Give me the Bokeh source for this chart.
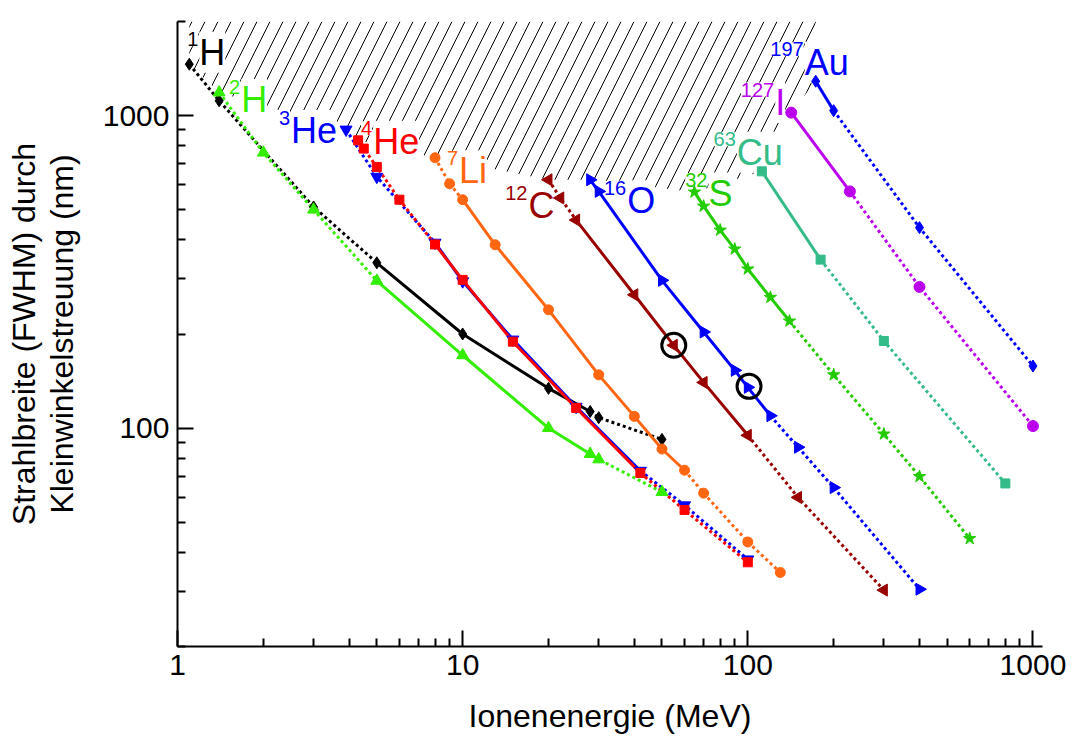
import math
from bokeh.plotting import figure
from bokeh.models import FixedTicker, BasicTickFormatter, Label, Range1d
from bokeh.embed import file_html
from bokeh.resources import INLINE

# ---------------- data (energy in MeV, beam width in nm) ----------------
h1_E = [1.1, 1.4, 3, 5, 10, 20, 28, 30, 50]
h1_W = [1460, 1115, 510, 338, 200, 134, 113, 108, 92]

h2_E = [1.4, 2, 3, 5, 10, 20, 28, 30, 50]
h2_W = [1185, 761, 500, 296, 171, 100, 82.6, 79.4, 62.4]

he3_E = [3.9, 5, 8, 10, 15, 25, 42, 60, 100]
he3_W = [902, 637, 392, 295, 192, 117, 73, 56.6, 38]

he4_E = [4.3, 4.5, 5, 6, 8, 10, 15, 25, 42, 60, 100]
he4_W = [833, 784, 685, 538, 387, 298, 189, 116, 71.8, 54.7, 37.2]

li7_E = [8, 9, 10, 13, 20, 30, 40, 50, 60, 70, 100, 130]
li7_W = [733, 605, 538, 386, 239, 148, 109, 85.7, 73.3, 61.9, 43.2, 34.5]

c12_E = [20, 22, 25, 40, 55, 70, 100, 150, 300]
c12_W = [623, 545, 463, 267, 184, 140, 94.8, 60, 30.3]

o16_E = [28, 30, 50, 70, 90, 100, 120, 150, 200, 400]
o16_W = [623, 572, 297, 203, 153, 135, 109.5, 86.8, 64.5, 30.5]

s32_E = [65, 70, 80, 90, 100, 120, 140, 200, 300, 400, 600]
s32_W = [569, 513, 430, 374, 323, 262, 220, 148, 95.7, 70, 44.3]

cu63_E = [112, 180, 300, 800]
cu63_W = [663, 346, 190, 66.5]

i127_E = [142, 228, 400, 1000]
i127_W = [1022, 572, 283, 101.5]

au197_E = [173, 200, 400, 1000]
au197_W = [1288, 1037, 438, 158]

# highlighted measurements (open black circles)
mark_E = [55, 101]
mark_W = [184, 136]

# isotope labels
mass_numbers = ["1", "2", "3", "4", "7", "12", "16", "32", "63", "127", "197"]
symbols = ["H", "H", "He", "He", "Li", "C", "O", "S", "Cu", "I", "Au"]

x_ticks = [1, 10, 100, 1000]
x_tick_labels = ["1", "10", "100", "1000"]
y_ticks = [100, 1000]
y_tick_labels = ["100", "1000"]

# ---------------- styles ----------------
series = [
    dict(E=h1_E, W=h1_W, color="#000000", marker="diamond", size=12, angle=0.0, solid=(3, 6), lab=(10, -1)),
    dict(E=h2_E, W=h2_W, color="#33ee00", marker="triangle", size=12, angle=0.0, solid=(3, 6), lab=(22, 18)),
    dict(E=he3_E, W=he3_W, color="#0000ff", marker="inverted_triangle", size=12, angle=0.0, solid=(2, 6), lab=(-55, 12)),
    dict(E=he4_E, W=he4_W, color="#ff0000", marker="square", size=9, angle=0.0, solid=(4, 8), lab=(15, 12)),
    dict(E=li7_E, W=li7_W, color="#ff6611", marker="circle", size=10, angle=0.0, solid=(2, 8), lab=(24, 24)),
    dict(E=c12_E, W=c12_W, color="#990000", marker="triangle", size=12, angle=math.pi / 2, solid=(2, 6), lab=(-20, 37)),
    dict(E=o16_E, W=o16_W, color="#0000ff", marker="triangle", size=12, angle=-math.pi / 2, solid=(0, 6), lab=(37, 32)),
    dict(E=s32_E, W=s32_W, color="#22cc00", marker="star", size=13, angle=0.0, solid=(0, 6), lab=(14, 12)),
    dict(E=cu63_E, W=cu63_W, color="#33bb88", marker="square", size=9, angle=0.0, solid=(0, 1), lab=(-25, -8)),
    dict(E=i127_E, W=i127_W, color="#bb00ee", marker="circle", size=11, angle=0.0, solid=(0, 1), lab=(-16, 1)),
    dict(E=au197_E, W=au197_W, color="#0000ff", marker="diamond", size=12, angle=0.0, solid=(0, 1), lab=(-11, -8)),
]

FONT = "Liberation Sans"
X0, X1 = 1, 1080
Y0, Y1 = 20, 2000

p = figure(x_axis_type="log", y_axis_type="log",
           x_range=Range1d(X0, X1), y_range=Range1d(Y0, Y1),
           frame_width=865, frame_height=625,
           min_border_left=177, min_border_right=32,
           min_border_top=21, min_border_bottom=91,
           output_backend="svg", toolbar_location=None)
p.grid.visible = False
p.outline_line_color = None
p.background_fill_color = "white"
p.border_fill_color = "white"

# hatched inaccessible region above the first point of each ion
hx = [series[0]["E"][0]] + [s["E"][0] for s in series] + [series[-1]["E"][0]]
hy = [Y1] + [s["W"][0] for s in series] + [Y1]
hatch = p.patch(hx, hy, fill_color=None, line_color=None,
                hatch_pattern="/", hatch_color="black", hatch_scale=26, hatch_weight=1)
hatch.level = "image"

# labels (white boxes that interrupt the hatching)
for s, m, sym in zip(series, mass_numbers, symbols):
    dx, dy = s["lab"]
    lab = Label(x=s["E"][0], y=s["W"][0], x_offset=dx, y_offset=-dy + 11, text=sym,
                text_font=FONT, text_font_size="36px", text_color=s["color"],
                text_align="left", text_baseline="alphabetic",
                background_fill_color="white", level="underlay")
    p.add_layout(lab)
    sup = Label(x=s["E"][0], y=s["W"][0], x_offset=dx - 1, y_offset=-dy + 24, text=m,
                text_font=FONT, text_font_size="20px", text_color=s["color"],
                text_align="right", text_baseline="alphabetic",
                background_fill_color="white", level="underlay")
    p.add_layout(sup)

# curves: dotted outside the measured range, solid inside
for s in series:
    E, W = s["E"], s["W"]
    i0, i1 = s["solid"]
    if i0 > 0:
        p.line(E[:i0 + 1], W[:i0 + 1], line_color=s["color"], line_width=3, line_dash="3 3")
    if i1 < len(E) - 1:
        p.line(E[i1:], W[i1:], line_color=s["color"], line_width=3, line_dash="3 3")
    p.line(E[i0:i1 + 1], W[i0:i1 + 1], line_color=s["color"], line_width=3)
for s in series:
    p.scatter(s["E"], s["W"], marker=s["marker"], size=s["size"], angle=s["angle"],
              fill_color=s["color"], line_color=s["color"], line_width=1)

p.scatter(mark_E, mark_W, marker="circle", size=24, fill_color=None,
          line_color="black", line_width=3)

# axes
xminor = [m * 10 ** k for k in range(0, 3) for m in range(2, 10)]
yminor = [m * 10 ** k for k in range(1, 3) for m in range(2, 10)] + [2000]
p.xaxis.ticker = FixedTicker(ticks=x_ticks, minor_ticks=xminor)
p.yaxis.ticker = FixedTicker(ticks=y_ticks, minor_ticks=yminor)
p.xaxis.formatter = BasicTickFormatter()
p.yaxis.formatter = BasicTickFormatter()
p.xaxis.major_label_overrides = dict(zip(x_ticks, x_tick_labels))
p.yaxis.major_label_overrides = dict(zip(y_ticks, y_tick_labels))

p.xaxis.axis_label = "Ionenenergie (MeV)"
p.yaxis.axis_label = "Strahlbreite (FWHM) durch\nKleinwinkelstreuung (nm)"
for ax in (p.xaxis[0], p.yaxis[0]):
    ax.axis_line_width = 2
    ax.axis_line_color = "black"
    ax.major_tick_in = 16
    ax.major_tick_out = 0
    ax.minor_tick_in = 8
    ax.minor_tick_out = 0
    ax.major_tick_line_width = 2
    ax.minor_tick_line_width = 2
    ax.major_tick_line_color = "black"
    ax.minor_tick_line_color = "black"
    ax.major_label_text_font = FONT
    ax.major_label_text_font_size = "30px"
    ax.major_label_text_color = "black"
    ax.axis_label_text_font = FONT
    ax.axis_label_text_font_size = "32px"
    ax.axis_label_text_font_style = "normal"
    ax.axis_label_text_color = "black"
p.xaxis.major_label_standoff = 8
p.yaxis.major_label_standoff = 8
p.xaxis.axis_label_standoff = 20
p.yaxis.axis_label_standoff = 20
p.yaxis.axis_label_text_line_height = 1.05

open("out.html", "w").write(file_html(p, INLINE))
